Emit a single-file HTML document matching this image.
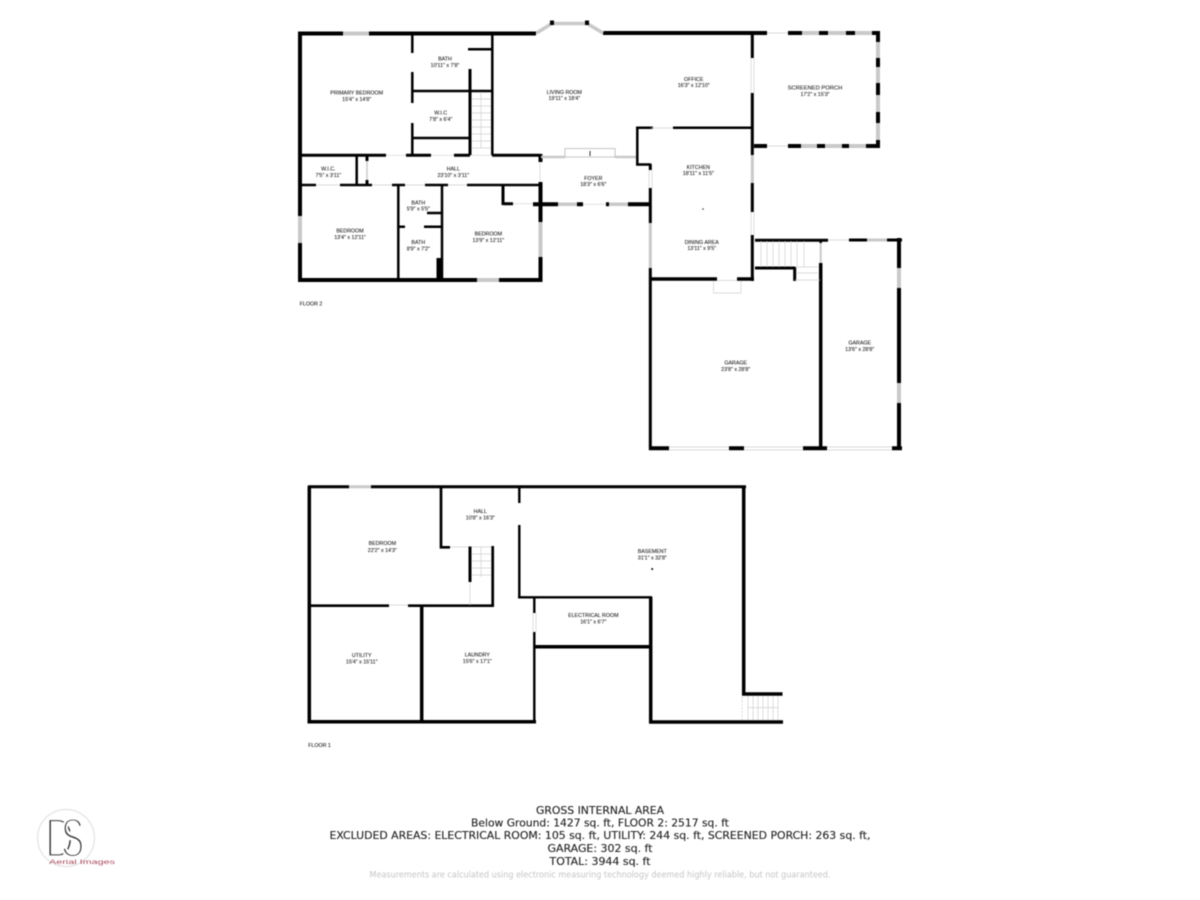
<!DOCTYPE html>
<html>
<head>
<meta charset="utf-8">
<style>
html,body{margin:0;padding:0;background:#fff;width:1200px;height:900px;overflow:hidden}
svg{display:block;filter:blur(.4px)}
.k{fill:none;stroke:#000;stroke-linecap:butt}
.g{fill:none;stroke:#c9c9c9}
.t{fill:none;stroke:#cfcfcf;stroke-width:.7}
.l text{font-family:"Liberation Sans",sans-serif;font-size:5.3px;fill:#222;stroke:#222;stroke-width:.08;text-anchor:middle}
.f text{font-family:"DejaVu Sans",sans-serif;fill:#222;stroke:#222;stroke-width:.12;text-anchor:middle}
</style>
</head>
<body>
<svg width="1200" height="900" viewBox="0 0 1200 900" xmlns="http://www.w3.org/2000/svg">
<!-- FLOOR 2 exterior walls -->
<path class="k" stroke-width="4" d="M298 33.5H343M369 33.5H536M300 32V216M300 243V282M298 280H477M499 280H542M540.5 282V257M540.5 222V182M540.5 162V154"/>
<path class="k" stroke-width="4" d="M603 33H767M788 33H802M819 33H828M846 33H855M872 33H880M878 32V42M878 58V67M878 83V95M878 112V123M878 140V147.5M754 146H767M788 146H801M817 146H825M842 146H849M866 146H880"/>
<path class="g" stroke-width="4" d="M343 33.5H369M477 280H499M802 33H819M828 33H846M855 33H872M878 42V58M878 67V83M878 95V112M878 123V140M801 146H817M825 146H842M849 146H866"/>
<path class="g" stroke-width="4" d="M300 216V243M540.5 222V257"/>
<!-- Bay window -->
<path class="g" stroke-width="3.5" d="M536.5 33L552 23.5H587L603 33"/>
<path class="k" stroke-width="4" d="M552 20.5V25M587 20.5V25M533 33.5H536"/>
<!-- FLOOR 2 interior -->
<path class="k" stroke-width="2.5" d="M412.3 34V53M412.3 72V103M412.3 123V155M492.3 34V155M468 49.3H492M412 91H492M412 138H470M356.7 155V185"/>
<path class="k" stroke-width="3" d="M470 69V155M299 155.3H386M406 155.3H431M454 155.3H470M492 155.3H541M367 155V161M367 180V185"/>
<path class="k" stroke-width="2.5" d="M299 185H316M340 185H372M392 185H405M425 185H448M467 185H541M398.3 185V280M442 185V280M398 226.7H405M424 226.7H442M427 213H442"/>
<path class="k" stroke-width="6" d="M439.5 258V280"/>
<path class="k" stroke-width="3" d="M503 186V205M503 203.7H513"/>
<path class="k" stroke-width="4" d="M533 204.3H558M577 204.3H583M606 204.3H609M628 204.3H651"/>
<path class="g" stroke-width="3.5" d="M558 204.3H577M609 204.3H628"/>
<path class="t" d="M513 203.7H533M583 204.3H606M316 185H340M372 185H392M405 185H425M448 185H467M386 155.3H406M431 155.3H454M470 155.3H492"/>
<path class="g" stroke-width="1.5" d="M367 161V180"/>
<path class="t" d="M540 162V182"/>
<!-- stairs F2 -->
<path class="t" d="M472 99H491M472 106H491M472 113H491M472 120H491M472 127H491M472 134H491M472 141H491M472 148H491M481 92V148"/>
<!-- Foyer top -->
<path class="g" stroke-width="2.5" d="M541 157H565M615 157H636"/>
<path d="M565 157V148.5H615V157H565" fill="none" stroke="#b5b5b5" stroke-width=".8"/>
<path d="M590 151V156" fill="none" stroke="#333" stroke-width="1"/>
<!-- Kitchen / office -->
<path class="k" stroke-width="2.5" d="M637.3 127V165.5M636 127.7H653M673 127.7H753M636 164.5H651"/>
<path class="k" stroke-width="3" d="M650.3 164V170M650.3 188V223M650.3 268V450"/>
<path class="g" stroke-width="3" d="M650.3 223V268"/>
<path class="t" d="M649 170V188M652 170V188M651 128H673M751 58V93M754 58V93M751 212V235M754 212V235M767 33H788M767 146H788"/>
<path class="k" stroke-width="3" d="M752.3 33V58M752.3 93V155M752.3 183V212M752.3 235V281"/>
<path class="g" stroke-width="3" d="M752.3 155V183"/>
<path class="k" stroke-width="3.5" d="M650 279H717M737 279H754"/>
<path class="t" stroke-width=".8" d="M717 280.5H737M713.5 281V293H741V281"/>
<!-- Garage / stairs -->
<path class="k" stroke-width="3" d="M755 240.3H828M849 240H867M887 240H902M755 268H795M794.7 267V281"/>
<path class="g" stroke-width="3" d="M867 240H887"/>
<path class="k" stroke-width="4" d="M899 238V268M899 288V383M899 403V450M649 448.3H669M729 448.3H744M803 448.3H827M892 448.3H902"/>
<path class="g" stroke-width="4" d="M899 268V288M899 383V403"/>
<path class="k" stroke-width="3.5" d="M820.7 263V450"/>
<path class="k" stroke-width="2.5" d="M820.7 240V243"/>
<path class="g" stroke-width="2" d="M820.7 243V263"/>
<path class="t" d="M669 447H729M669 450H729M744 447H803M744 450H803M827 447H892M827 450H892M828 240H849M795 280H820M797 267H818M797 273H818M804 241V267M761 241V267M767 241V267M773 241V267M779 241V267M785 241V267M791 241V267M797 241V267"/>
<!-- FLOOR 1 -->
<path class="k" stroke-width="3" d="M308 486.7H349M371 486.7H746"/>
<path class="g" stroke-width="3" d="M349 486.7H371"/>
<path class="k" stroke-width="3.5" d="M309.3 486V723M307.5 721.7H536M421.7 606V722"/>
<path class="k" stroke-width="2.7" d="M441 486V548.5M440 547.3H450M309 605.7H389M408 605.7H494M492.7 546V607"/>
<path class="k" stroke-width="3" d="M470 546.5V582"/>
<path class="t" d="M450 547H468M470 582V605M389 605H408M472 547H491M472 554H491M472 561H491M472 568H491M472 575H491M481 547V577"/>
<path class="k" stroke-width="2.4" d="M519.3 486V503M519.3 525V598M518 597.3H652M534.3 597V613M534.3 632V723"/>
<path class="t" d="M533 613V632M536 613V632"/>
<path class="k" stroke-width="3.5" d="M534 646.7H652M650.7 597V723M649 722H783M743.7 486V695M742 694H782.5"/>
<path class="t" d="M748 696V720M753 696V720M758 696V720M763 696V720M768 696V720M773 696V720M778 696V720M748 707.6H778"/>
<path class="t" stroke-dasharray="2 1.5" d="M742 697V720"/>
<circle cx="652.2" cy="569" r="1" fill="#000"/>
<circle cx="703" cy="209" r=".8" fill="#333"/>
<!-- Room labels -->
<g class="l">
<text x="356.7" y="94.5">PRIMARY BEDROOM</text><text x="356.7" y="100.8">15'4" x 14'8"</text>
<text x="445" y="60.5">BATH</text><text x="445" y="66.8">10'11" x 7'8"</text>
<text x="440.7" y="114.5">W.I.C</text><text x="440.7" y="120.8">7'8" x 6'4"</text>
<text x="564.3" y="93.8">LIVING ROOM</text><text x="564.3" y="100.1">19'11" x 18'4"</text>
<text x="453.3" y="170.5">HALL</text><text x="453.3" y="176.8">23'10" x 3'11"</text>
<text x="328.3" y="170.5">W.I.C.</text><text x="328.3" y="176.8">7'5" x 3'11"</text>
<text x="350" y="232.5">BEDROOM</text><text x="350" y="238.8">13'4" x 12'11"</text>
<text x="418.3" y="204.5">BATH</text><text x="418.3" y="210.5">5'9" x 5'5"</text>
<text x="418.3" y="244.1">BATH</text><text x="418.3" y="250.5">8'9" x 7'2"</text>
<text x="488.3" y="235.5">BEDROOM</text><text x="488.3" y="241.8">13'9" x 12'11"</text>
<text x="311" y="305.5">FLOOR 2</text>
<text x="693.7" y="80.8">OFFICE</text><text x="693.7" y="86.8">16'3" x 12'10"</text>
<text x="815" y="89.5" style="font-size:5.8px">SCREENED PORCH</text><text x="815" y="95.8">17'2" x 15'3"</text>
<text x="698.3" y="168.8">KITCHEN</text><text x="698.3" y="175.1">18'11" x 11'5"</text>
<text x="701.7" y="243.8">DINING AREA</text><text x="701.7" y="250.1">13'11" x 9'5"</text>
<text x="593.3" y="180.1">FOYER</text><text x="593.3" y="186.1">18'3" x 6'6"</text>
<text x="735.7" y="364.5">GARAGE</text><text x="735.7" y="370.8">23'8" x 28'8"</text>
<text x="859.7" y="344.5">GARAGE</text><text x="859.7" y="350.8">13'6" x 28'8"</text>
<text x="480.3" y="513.1">HALL</text><text x="480.3" y="519.5">10'8" x 16'3"</text>
<text x="382.3" y="545.1">BEDROOM</text><text x="382.3" y="551.8">22'2" x 14'3"</text>
<text x="361.7" y="657.1">UTILITY</text><text x="361.7" y="663.5">15'4" x 15'11"</text>
<text x="477.3" y="656.5">LAUNDRY</text><text x="477.3" y="662.8">15'6" x 17'1"</text>
<text x="319.5" y="746.8">FLOOR 1</text>
<text x="652.3" y="553.1">BASEMENT</text><text x="652.3" y="559.5">31'1" x 32'8"</text>
<text x="593.3" y="616.8">ELECTRICAL ROOM</text><text x="593.3" y="623.5">16'1" x 6'7"</text>
</g>
<!-- Footer -->
<g class="f">
<text x="600" y="814" font-size="10.5" textLength="128" lengthAdjust="spacingAndGlyphs">GROSS INTERNAL AREA</text>
<text x="600" y="826.5" font-size="10.5" textLength="258" lengthAdjust="spacingAndGlyphs">Below Ground: 1427 sq. ft, FLOOR 2: 2517 sq. ft</text>
<text x="600" y="839" font-size="10.5" textLength="541" lengthAdjust="spacingAndGlyphs">EXCLUDED AREAS: ELECTRICAL ROOM: 105 sq. ft, UTILITY: 244 sq. ft, SCREENED PORCH: 263 sq. ft,</text>
<text x="600" y="852" font-size="10.5" textLength="105" lengthAdjust="spacingAndGlyphs">GARAGE: 302 sq. ft</text>
<text x="600" y="865" font-size="10.5" textLength="101" lengthAdjust="spacingAndGlyphs">TOTAL: 3944 sq. ft</text>
<text x="600" y="877.5" font-size="8.5" style="fill:#c4c4c4;stroke:none" textLength="461" lengthAdjust="spacingAndGlyphs">Measurements are calculated using electronic measuring technology deemed highly reliable, but not guaranteed.</text>
</g>
<!-- Logo -->
<circle cx="66" cy="838" r="28.5" fill="none" stroke="#e2e2e2" stroke-width="1.2"/>
<g font-family="Liberation Sans,sans-serif" font-size="56" fill="#333" stroke="#fff" stroke-width="3.2">
<text x="45" y="857" transform="translate(45 857) scale(.72 1) translate(-45 -857)">D</text>
<text x="61" y="857" transform="translate(61 857) scale(.62 1) translate(-61 -857)">S</text>
</g>
<text x="82" y="864" font-family="Liberation Sans,sans-serif" font-size="6.5" fill="#a8485a" text-anchor="middle" textLength="66" lengthAdjust="spacingAndGlyphs">Aerial Images</text>
</svg>
</body>
</html>
